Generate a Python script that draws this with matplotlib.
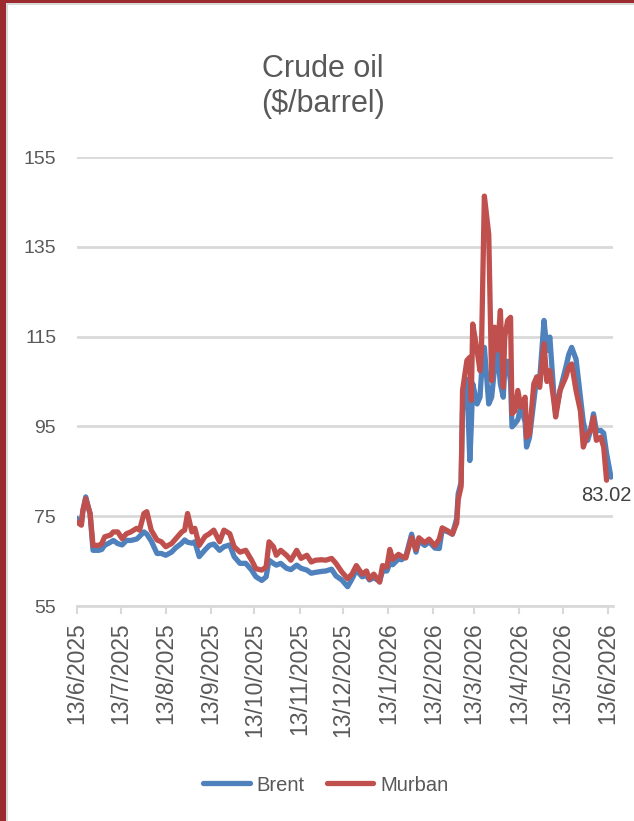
import matplotlib.pyplot as plt
import matplotlib.dates as mdates
from matplotlib.patches import Rectangle
import pandas as pd

# Data (date, Brent, Murban) in $/barrel
dates = [
    "2025-06-13", "2025-06-16", "2025-06-17", "2025-06-19", "2025-06-22", "2025-06-24",
    "2025-06-28", "2025-06-30", "2025-07-02", "2025-07-06", "2025-07-08", "2025-07-11",
    "2025-07-14", "2025-07-17", "2025-07-20", "2025-07-24", "2025-07-26", "2025-07-29",
    "2025-07-31", "2025-08-03", "2025-08-07", "2025-08-10", "2025-08-13", "2025-08-17",
    "2025-08-20", "2025-08-24", "2025-08-26", "2025-08-28", "2025-08-31", "2025-09-02",
    "2025-09-05", "2025-09-09", "2025-09-12", "2025-09-15", "2025-09-19", "2025-09-22",
    "2025-09-26", "2025-09-29", "2025-10-03", "2025-10-07", "2025-10-11", "2025-10-14",
    "2025-10-18", "2025-10-21", "2025-10-23", "2025-10-26", "2025-10-28", "2025-10-31",
    "2025-11-04", "2025-11-07", "2025-11-11", "2025-11-14", "2025-11-18", "2025-11-21",
    "2025-11-24", "2025-11-28", "2025-12-01", "2025-12-05", "2025-12-08", "2025-12-12",
    "2025-12-16", "2025-12-19", "2025-12-22", "2025-12-26", "2025-12-29", "2025-12-31",
    "2026-01-03", "2026-01-07", "2026-01-09", "2026-01-12", "2026-01-14", "2026-01-16",
    "2026-01-20", "2026-01-22", "2026-01-25", "2026-01-29", "2026-02-01", "2026-02-03",
    "2026-02-07", "2026-02-10", "2026-02-14", "2026-02-17", "2026-02-19", "2026-02-23",
    "2026-02-26", "2026-03-01", "2026-03-02", "2026-03-04", "2026-03-05", "2026-03-08",
    "2026-03-10", "2026-03-11", "2026-03-12", "2026-03-15", "2026-03-17", "2026-03-18",
    "2026-03-20", "2026-03-23", "2026-03-25", "2026-03-27", "2026-03-29", "2026-03-31",
    "2026-04-02", "2026-04-03", "2026-04-05", "2026-04-07", "2026-04-08", "2026-04-10",
    "2026-04-12", "2026-04-14", "2026-04-17", "2026-04-18", "2026-04-20", "2026-04-23",
    "2026-04-25", "2026-04-27", "2026-04-30", "2026-05-02", "2026-05-04", "2026-05-07",
    "2026-05-08", "2026-05-11", "2026-05-15", "2026-05-17", "2026-05-19", "2026-05-22",
    "2026-05-25", "2026-05-27", "2026-05-30", "2026-06-01", "2026-06-03", "2026-06-05",
    "2026-06-08", "2026-06-10", "2026-06-12", "2026-06-15",
]

brent = [
    74.5, 73.4, 76.0, 79.3, 75.5, 67.4, 67.4, 67.6, 68.5, 69.2, 69.6, 68.9,
    68.6, 69.6, 69.6, 69.9, 70.5, 71.5, 71.0, 69.5, 66.7, 66.7, 66.3, 67.0,
    68.0, 69.0, 69.7, 69.2, 69.0, 69.3, 66.0, 67.5, 68.5, 68.8, 67.4, 68.2,
    68.6, 66.0, 64.5, 64.5, 63.0, 61.5, 60.7, 61.5, 65.2, 64.5, 64.1, 64.5,
    63.4, 63.1, 64.1, 63.4, 63.0, 62.3, 62.5, 62.7, 62.8, 63.2, 61.7, 60.8,
    59.3, 61.0, 63.0, 61.5, 61.8, 60.8, 61.3, 60.5, 62.8, 62.8, 64.5, 64.2,
    65.5, 65.3, 66.0, 71.0, 67.0, 69.5, 68.5, 69.3, 67.9, 67.8, 72.0, 71.5,
    71.0, 74.5, 80.0, 82.5, 98.6, 105.5, 87.4, 95.0, 104.5, 100.0, 101.5, 106.7,
    112.6, 100.0, 101.5, 108.0, 111.9, 104.5, 101.5, 108.0, 109.5, 105.0, 94.9, 95.6,
    96.5, 99.3, 96.0, 90.4, 92.5, 100.5, 106.0, 105.3, 118.6, 111.9, 114.9, 101.0,
    98.0, 103.0, 108.2, 111.0, 112.6, 110.0, 101.5, 96.0, 91.9, 94.1, 97.8, 94.0,
    94.1, 93.5, 89.0, 83.7,
]

murban = [
    73.7, 73.0, 76.3, 78.9, 75.6, 68.5, 68.5, 68.9, 70.4, 70.8, 71.5, 71.5,
    70.0, 71.1, 71.5, 72.3, 71.9, 75.6, 76.0, 71.9, 69.7, 69.3, 68.2, 68.9,
    70.0, 71.5, 71.9, 75.6, 71.5, 72.3, 68.5, 70.5, 71.1, 71.9, 69.3, 71.9,
    71.1, 68.2, 67.0, 67.4, 65.2, 63.3, 63.0, 63.7, 69.3, 68.2, 66.3, 67.4,
    66.3, 65.2, 67.4, 65.6, 66.3, 64.8, 65.2, 65.3, 65.2, 65.6, 64.5, 62.6,
    61.1, 62.1, 64.0, 62.1, 62.8, 61.0, 62.1, 60.3, 64.0, 63.7, 67.6, 65.4,
    66.5, 66.1, 65.7, 70.2, 67.6, 70.2, 69.1, 69.9, 68.4, 69.9, 72.4, 71.7,
    71.0, 73.5, 78.7, 81.6, 103.0, 109.7, 110.4, 100.8, 117.8, 111.9, 107.4, 112.0,
    146.3, 137.8, 105.2, 117.1, 112.0, 120.8, 103.7, 114.9, 118.6, 119.3, 97.8, 98.5,
    103.0, 99.3, 101.5, 92.6, 93.3, 104.5, 106.0, 103.7, 113.4, 105.0, 107.4, 100.0,
    97.1, 103.0, 106.0, 108.2, 108.9, 103.0, 98.5, 90.4, 93.3, 94.1, 97.0, 91.9,
    92.6, 90.4, 83.02,
]

last_label = "83.02"

brent_dates = pd.to_datetime(dates)
murban_dates = brent_dates[:len(murban)]

tick_dates = pd.date_range("2025-06-13", periods=13, freq=pd.DateOffset(months=1))
tick_labels = [f"{d.day}/{d.month}/{d.year}" for d in tick_dates]

W, H = 634, 821
fig = plt.figure(figsize=(W / 100, H / 100), dpi=100)
fig.patch.set_facecolor("white")
plt.rcParams['font.family'] = ['Liberation Sans', 'DejaVu Sans']

txt = "#595959"
grid = "#d9d9d9"

ax = fig.add_axes([77 / W, 1 - 606 / H, (613 - 77) / W, (606 - 157) / H])

ax.plot(brent_dates, brent, color="#4f81bd", lw=3.8, solid_joinstyle="round",
        solid_capstyle="round", label="Brent")
ax.plot(murban_dates, murban, color="#c0504d", lw=3.8, solid_joinstyle="round",
        solid_capstyle="round", label="Murban")

ax.annotate(last_label, xy=(murban_dates[-1], murban[-1]), xytext=(0, -4),
            textcoords="offset points", ha="center", va="top",
            fontsize=14.5, color="#404040")

ax.set_ylim(55, 155)
ax.set_yticks([55, 75, 95, 115, 135, 155])
ax.set_xlim(pd.Timestamp("2025-06-13"), pd.Timestamp("2026-06-16 10:00"))
ax.set_xticks(tick_dates)
ax.set_xticklabels(tick_labels, rotation=90, fontsize=16.5, color=txt, va="top")

ax.yaxis.grid(True, color=grid, lw=2)
ax.set_axisbelow(True)
for s in ["top", "right", "left"]:
    ax.spines[s].set_visible(False)
ax.spines["bottom"].set_color(grid)
ax.spines["bottom"].set_linewidth(2)
ax.tick_params(axis="y", length=0, pad=15, labelsize=14, labelcolor=txt)
ax.tick_params(axis="x", length=6, width=1.5, color=grid, pad=6)

fig.text(323 / W, 1 - 112 / H, "Crude oil\n($/barrel)", ha="center", va="baseline",
         fontsize=22, color=txt, linespacing=1.2)

fig.legend(loc="center", bbox_to_anchor=(326 / W, 1 - 785 / H), ncol=2,
           frameon=False, fontsize=14.5, labelcolor=txt, handlelength=2.3,
           handletextpad=0.35, columnspacing=1.1)

# chart frame
fig.add_artist(Rectangle((0, 0), 6 / W, 1, transform=fig.transFigure,
                         color="#9b2b2f", lw=0))
fig.add_artist(Rectangle((0, 1 - 3 / H), 1, 3 / H, transform=fig.transFigure,
                         color="#9b2b2f", lw=0))
fig.add_artist(Rectangle((6 / W, 0), 2 / W, 1 - 3 / H, transform=fig.transFigure,
                         color=grid, lw=0))
fig.add_artist(Rectangle((6 / W, 1 - 5 / H), 1, 2 / H, transform=fig.transFigure,
                         color=grid, lw=0))

fig.savefig("out.png", dpi=100)
